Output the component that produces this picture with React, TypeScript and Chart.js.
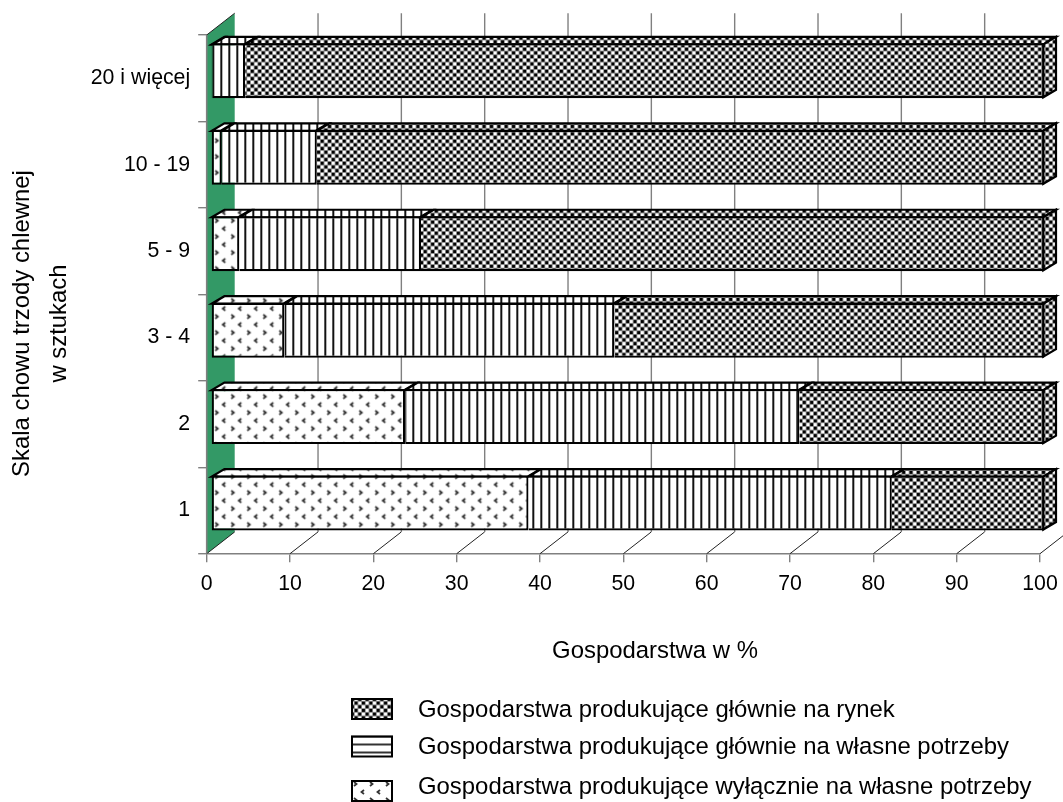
import React, { useEffect, useRef } from "react";
import { Chart, registerables } from "chart.js";

Chart.register(...registerables);

const categories = ["20 i więcej", "10 - 19", "5 - 9", "3 - 4", "2", "1"];
const exclusiveOwn = [0.2, 1.3, 3.4, 8.8, 23.3, 38.1];
const mainlyOwn = [3.9, 11.4, 21.8, 39.6, 47.3, 43.6];
const mainlyMarket = [95.9, 87.3, 74.8, 51.6, 29.4, 18.3];
const seriesLabels = [
  "Gospodarstwa produkujące wyłącznie na własne potrzeby",
  "Gospodarstwa produkujące głównie na własne potrzeby",
  "Gospodarstwa produkujące głównie na rynek",
];
const xTitle = "Gospodarstwa w %";
const yTitleLines = ["Skala chowu trzody chlewnej", "w sztukach"];

const FAMILY = '"Liberation Sans", Arial, sans-serif';
const FONT = `23.9px ${FAMILY}`;
const TICK_SIZE = 21.3;
const GREY = "#808080";
const GREEN = "#339966";
const WALL_DX = 28;
const WALL_DY = 21.8;
const BAR_SHIFT_X = 4.3;
const BAR_SHIFT_Y = -7.4;
const BAR_DX = 12.7;
const BAR_DY = 7.5;

function tile(w: number, h: number, draw: (c: CanvasRenderingContext2D) => void) {
  const cv = document.createElement("canvas");
  cv.width = w;
  cv.height = h;
  const c = cv.getContext("2d")!;
  c.fillStyle = "#fff";
  c.fillRect(0, 0, w, h);
  draw(c);
  return c.createPattern(cv, "repeat")!;
}

function checkerPattern() {
  const p = tile(8, 8, (c) => {
    c.fillStyle = "#8a8a8a";
    c.fillRect(0, 0, 8, 8);
    c.fillStyle = "#000";
    c.fillRect(0, 0, 3, 3);
    c.fillRect(4, 4, 3, 3);
    c.fillStyle = "#fff";
    c.fillRect(4, 0, 3, 3);
    c.fillRect(0, 4, 3, 3);
  });
  p.setTransform(new DOMMatrix().scale(0.92));
  return p;
}
function verticalPattern() {
  return tile(8, 8, (c) => {
    c.fillStyle = "#111";
    c.fillRect(0, 0, 2, 8);
  });
}
function horizontalPattern() {
  return tile(8, 8, (c) => {
    c.fillStyle = "#333";
    c.fillRect(0, 0, 8, 2);
  });
}
function dotPattern() {
  return tile(16, 16, (c) => {
    c.strokeStyle = "#333";
    c.lineWidth = 1.8;
    c.beginPath();
    c.moveTo(3, 2);
    c.lineTo(5.5, 4);
    c.lineTo(3, 6);
    c.moveTo(13, 10);
    c.lineTo(10.5, 12);
    c.lineTo(13, 14);
    c.stroke();
  });
}

export default function App() {
  const ref = useRef<HTMLCanvasElement>(null);

  useEffect(() => {
    const canvas = ref.current!;
    const patterns = [dotPattern(), verticalPattern(), checkerPattern()];
    const legendPatterns = [dotPattern(), horizontalPattern(), checkerPattern()];

    const scene = {
      id: "scene",
      beforeDatasetsDraw(chart: any) {
        const { ctx, chartArea: a, scales } = chart;
        ctx.save();
        // floor lines
        ctx.strokeStyle = "#222";
        ctx.lineWidth = 1;
        for (let v = 10; v <= 100; v += 10) {
          const x = scales.x.getPixelForValue(v);
          ctx.beginPath();
          ctx.moveTo(x, a.bottom);
          ctx.lineTo(x + WALL_DX, a.bottom - WALL_DY);
          ctx.stroke();
        }
        // back wall grid
        ctx.strokeStyle = GREY;
        ctx.lineWidth = 1.4;
        for (let v = 10; v <= 100; v += 10) {
          const x = scales.x.getPixelForValue(v) + WALL_DX;
          ctx.beginPath();
          ctx.moveTo(x, a.top - WALL_DY);
          ctx.lineTo(x, a.bottom - WALL_DY);
          ctx.stroke();
        }
        // green side wall
        ctx.fillStyle = GREEN;
        ctx.beginPath();
        ctx.moveTo(a.left, a.bottom);
        ctx.lineTo(a.left, a.top);
        ctx.lineTo(a.left + WALL_DX, a.top - WALL_DY);
        ctx.lineTo(a.left + WALL_DX, a.bottom - WALL_DY);
        ctx.closePath();
        ctx.fill();
        ctx.strokeStyle = "#222";
        ctx.lineWidth = 1;
        ctx.beginPath();
        ctx.moveTo(a.left, a.top);
        ctx.lineTo(a.left + WALL_DX, a.top - WALL_DY);
        ctx.moveTo(a.left, a.bottom);
        ctx.lineTo(a.left + WALL_DX, a.bottom - WALL_DY);
        ctx.stroke();
        // axis line on top of the wall edge
        ctx.strokeStyle = GREY;
        ctx.lineWidth = 1.6;
        ctx.beginPath();
        ctx.moveTo(a.left, a.top);
        ctx.lineTo(a.left, a.bottom);
        ctx.stroke();
        ctx.restore();

        // bars are shifted into the depth of the chart
        ctx.save();
        ctx.translate(BAR_SHIFT_X, BAR_SHIFT_Y);
        ctx.lineWidth = 2.2;
        ctx.strokeStyle = "#000";
        ctx.lineJoin = "miter";
        chart.data.datasets.forEach((_: any, d: number) => {
          const meta = chart.getDatasetMeta(d);
          meta.data.forEach((el: any) => {
            const top = el.y - el.height / 2 + 1;
            const bottom = el.y + el.height / 2 - 1;
            const x0 = el.base;
            const x1 = el.x - 1;
            ctx.fillStyle = patterns[d];
            ctx.beginPath();
            ctx.moveTo(x0, top);
            ctx.lineTo(x1, top);
            ctx.lineTo(x1 + BAR_DX, top - BAR_DY);
            ctx.lineTo(x0 + BAR_DX, top - BAR_DY);
            ctx.closePath();
            ctx.fill();
            ctx.stroke();
            if (d === chart.data.datasets.length - 1) {
              ctx.beginPath();
              ctx.moveTo(x1, top);
              ctx.lineTo(x1 + BAR_DX, top - BAR_DY);
              ctx.lineTo(x1 + BAR_DX, bottom - BAR_DY);
              ctx.lineTo(x1, bottom);
              ctx.closePath();
              ctx.fill();
              ctx.stroke();
            }
          });
        });
      },
      afterDatasetsDraw(chart: any) {
        const { ctx } = chart;
        ctx.restore();

        // axis titles
        ctx.save();
        ctx.fillStyle = "#000";
        ctx.font = FONT;
        ctx.textAlign = "center";
        ctx.textBaseline = "alphabetic";
        ctx.fillText(xTitle, 655, 658);
        const bases = [29, 66];
        yTitleLines.forEach((line, i) => {
          ctx.save();
          ctx.translate(bases[i], 323.5);
          ctx.rotate(-Math.PI / 2);
          ctx.fillText(line, 0, 0);
          ctx.restore();
        });
        ctx.restore();

        // legend, last series first
        ctx.save();
        ctx.font = FONT;
        ctx.textBaseline = "alphabetic";
        const rows = [
          { d: 2, top: 698, text: 717 },
          { d: 1, top: 735.5, text: 754 },
          { d: 0, top: 780, text: 794 },
        ];
        rows.forEach(({ d, top, text }) => {
          ctx.save();
          ctx.translate(351, top);
          ctx.fillStyle = legendPatterns[d];
          ctx.fillRect(0, 0, 42, 22);
          ctx.strokeStyle = "#000";
          ctx.lineWidth = 2;
          ctx.strokeRect(1, 1, 40, 20);
          ctx.restore();
          ctx.fillStyle = "#000";
          ctx.fillText(chart.data.datasets[d].label, 418, text);
        });
        ctx.restore();
      },
    };

    const series = [exclusiveOwn, mainlyOwn, mainlyMarket];
    const chart = new Chart(canvas, {
      type: "bar",
      plugins: [scene],
      data: {
        labels: categories,
        datasets: series.map((values, d) => ({
          label: seriesLabels[d],
          data: values,
          backgroundColor: patterns[d],
          borderColor: "#000",
          borderWidth: { top: 2.2, bottom: 2.2, right: 2.2, left: d === 0 ? 2.2 : 0 },
          borderSkipped: false,
          categoryPercentage: 1,
          barPercentage: 0.636,
          clip: false,
        })),
      },
      options: {
        indexAxis: "y",
        responsive: false,
        animation: false,
        devicePixelRatio: 1,
        layout: { padding: { top: 35, right: 23, left: 0, bottom: 0 } },
        plugins: { legend: { display: false }, tooltip: { enabled: false } },
        scales: {
          x: {
            type: "linear",
            stacked: true,
            min: 0,
            max: 100,
            afterFit(s: any) {
              s.height = 802 - 553.7;
              s.paddingLeft = 0;
              s.paddingRight = 0;
            },
            border: { color: GREY, width: 1.6 },
            grid: { drawOnChartArea: false, color: GREY, tickLength: 8.5, lineWidth: 1.4 },
            ticks: {
              stepSize: 10,
              autoSkip: false,
              maxRotation: 0,
              color: "#000",
              padding: 9,
              font: { family: FAMILY, size: TICK_SIZE },
            },
          },
          y: {
            type: "category",
            stacked: true,
            afterFit(s: any) {
              s.width = 206.7;
              s.paddingTop = 0;
              s.paddingBottom = 0;
            },
            border: { display: false },
            grid: { drawOnChartArea: false, color: GREY, tickLength: 8.5, lineWidth: 1.4, offset: true },
            ticks: {
              autoSkip: false,
              color: "#000",
              padding: 8,
              font: { family: FAMILY, size: TICK_SIZE },
            },
          },
        },
      } as any,
    } as any);
    return () => chart.destroy();
  }, []);

  return (
    <div style={{ position: "fixed", left: 0, top: 0, width: 1063, height: 802, background: "#fff" }}>
      <canvas ref={ref} width={1063} height={802} style={{ display: "block" }} />
    </div>
  );
}
